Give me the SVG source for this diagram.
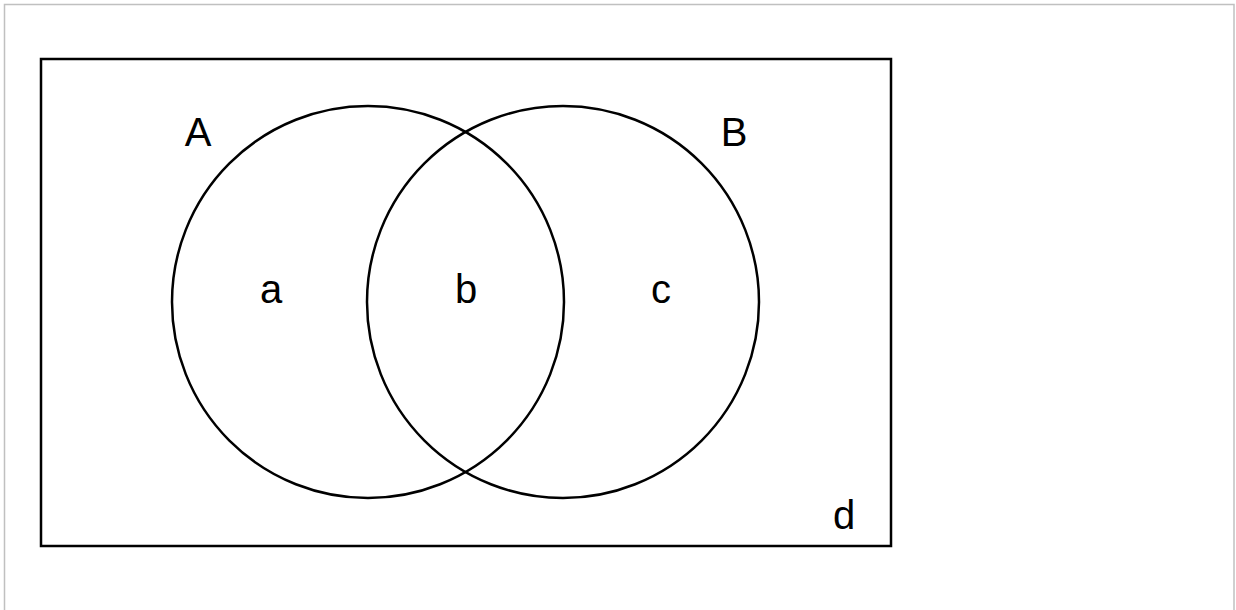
<svg xmlns="http://www.w3.org/2000/svg" width="1236" height="610" viewBox="0 0 1236 610">
<style>
.ln{fill:none;stroke:#000;stroke-width:2.5}
.t{font-family:"Liberation Sans",Arial,sans-serif;font-size:40px;fill:#000;text-anchor:middle}
</style>
<rect x="0" y="0" width="1236" height="610" fill="#fff"/>
<rect x="4.5" y="4.5" width="1229.5" height="620" fill="none" stroke="#c0c0c0" stroke-width="1.5"/>
<g id="universe">
<rect class="ln" x="41" y="59" width="850" height="487" stroke-width="3"/>
<text class="t" x="844" y="529">d</text>
</g>
<g id="setA">
<circle class="ln" cx="368" cy="302" r="196"/>
<text class="t" x="198" y="146">A</text>
</g>
<g id="setB">
<circle class="ln" cx="563" cy="302" r="196"/>
<text class="t" x="734" y="146">B</text>
</g>
<g id="regions">
<text class="t" x="271" y="303">a</text>
<text class="t" x="466" y="303">b</text>
<text class="t" x="661" y="303">c</text>
</g>
</svg>
